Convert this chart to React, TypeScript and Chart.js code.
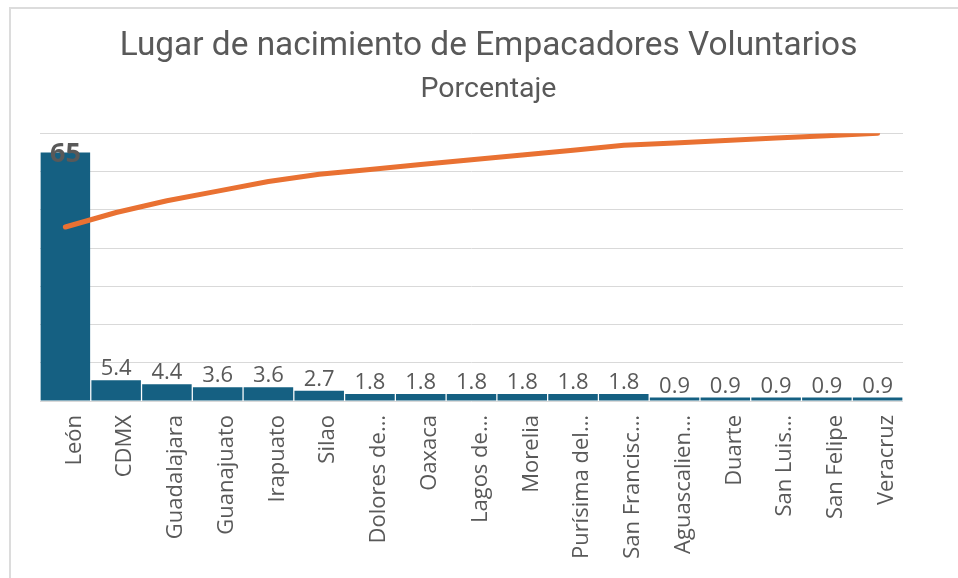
import React, { useEffect, useRef } from "react";
import { Chart, registerables } from "chart.js";

Chart.register(...registerables);

const titleText = "Lugar de nacimiento de Empacadores Voluntarios";
const subtitleText = "Porcentaje";

const categories = [
  "León",
  "CDMX",
  "Guadalajara",
  "Guanajuato",
  "Irapuato",
  "Silao",
  "Dolores de…",
  "Oaxaca",
  "Lagos de…",
  "Morelia",
  "Purísima del…",
  "San Francisc…",
  "Aguascalien…",
  "Duarte",
  "San Luis…",
  "San Felipe",
  "Veracruz",
];

const percentages = [65, 5.4, 4.4, 3.6, 3.6, 2.7, 1.8, 1.8, 1.8, 1.8, 1.8, 1.8, 0.9, 0.9, 0.9, 0.9, 0.9];

const cumulative = [65, 70.4, 74.8, 78.4, 82, 84.7, 86.5, 88.3, 90.1, 91.9, 93.7, 95.5, 96.4, 97.3, 98.2, 99.1, 100];

const barAxisMax = 70;
const barAxisStep = 10;
const lineAxisMax = 100;

const TEXT = "#595959";

const barLabelPlugin = {
  id: "barLabels",
  afterDatasetsDraw(chart: any) {
    const meta = chart.getDatasetMeta(0);
    const ctx = chart.ctx;
    ctx.save();
    ctx.fillStyle = TEXT;
    ctx.textAlign = "center";
    meta.data.forEach((bar: any, i: number) => {
      const text = String(percentages[i]);
      if (bar.y - 30 < chart.chartArea.top) {
        ctx.font = 'bold 27px "Open Sans"';
        ctx.textBaseline = "middle";
        ctx.fillText(text, bar.x, bar.y + 2);
      } else {
        ctx.font = '22px "Open Sans"';
        ctx.textBaseline = "alphabetic";
        ctx.fillText(text, bar.x, bar.y - 5);
      }
    });
    ctx.restore();
  },
};

export default function App() {
  const ref = useRef<HTMLCanvasElement | null>(null);

  useEffect(() => {
    if (!ref.current) return;
    const chart = new Chart(ref.current, {
      type: "bar",
      data: {
        labels: categories,
        datasets: [
          {
            type: "bar",
            label: "Porcentaje",
            data: percentages,
            yAxisID: "y",
            backgroundColor: "#156082",
            borderWidth: 0,
            barPercentage: 0.975,
            categoryPercentage: 1,
            order: 2,
          } as any,
          {
            type: "line",
            label: "Acumulado",
            data: cumulative,
            yAxisID: "y1",
            borderColor: "#E97132",
            backgroundColor: "#E97132",
            borderWidth: 5,
            borderCapStyle: "round",
            borderJoinStyle: "round",
            pointRadius: 0,
            tension: 0,
            order: 1,
          } as any,
        ],
      },
      options: {
        responsive: false,
        animation: false,
        devicePixelRatio: 1,
        layout: { padding: { left: 19, right: 0, top: 0, bottom: 0 } },
        plugins: {
          legend: { display: false },
          tooltip: { enabled: false },
          title: {
            display: true,
            text: titleText,
            color: TEXT,
            font: { family: "Roboto", size: 33.4, weight: "normal" },
            padding: { top: 27, bottom: 0 },
          },
          subtitle: {
            display: true,
            text: subtitleText,
            color: TEXT,
            font: { family: "Roboto", size: 28.5, weight: "normal" },
            padding: { top: 6, bottom: 26 },
          },
        },
        scales: {
          x: {
            grid: { display: false, drawTicks: false },
            border: { display: false },
            ticks: {
              color: TEXT,
              font: { family: "Open Sans", size: 22 },
              maxRotation: 90,
              minRotation: 90,
              autoSkip: false,
              padding: 14,
              labelOffset: 9,
            },
            afterFit: (s: any) => {
              s.height = 177;
            },
          },
          y: {
            position: "left",
            min: 0,
            max: barAxisMax,
            ticks: { display: false, stepSize: barAxisStep },
            grid: { color: "#d9d9d9", lineWidth: 1, drawTicks: false },
            border: { display: false },
            afterFit: (s: any) => {
              s.width = 21;
            },
          },
          y1: {
            position: "right",
            min: 0,
            max: lineAxisMax,
            ticks: { display: false },
            grid: { display: false, drawTicks: false },
            border: { display: false },
            afterFit: (s: any) => {
              s.width = 55;
            },
          },
        },
      },
      plugins: [barLabelPlugin],
    });
    return () => chart.destroy();
  }, []);

  return (
    <div style={{ position: "fixed", left: 0, top: 0, width: 958, height: 578, background: "#fff", overflow: "hidden" }}>
      <div
        style={{
          position: "absolute",
          left: 9,
          top: 7,
          width: 1200,
          height: 1200,
          borderTop: "2px solid #dcdcdc",
          borderLeft: "2px solid #dcdcdc",
        }}
      />
      <canvas ref={ref} width={958} height={578} style={{ position: "absolute", left: 0, top: 0 }} />
    </div>
  );
}
